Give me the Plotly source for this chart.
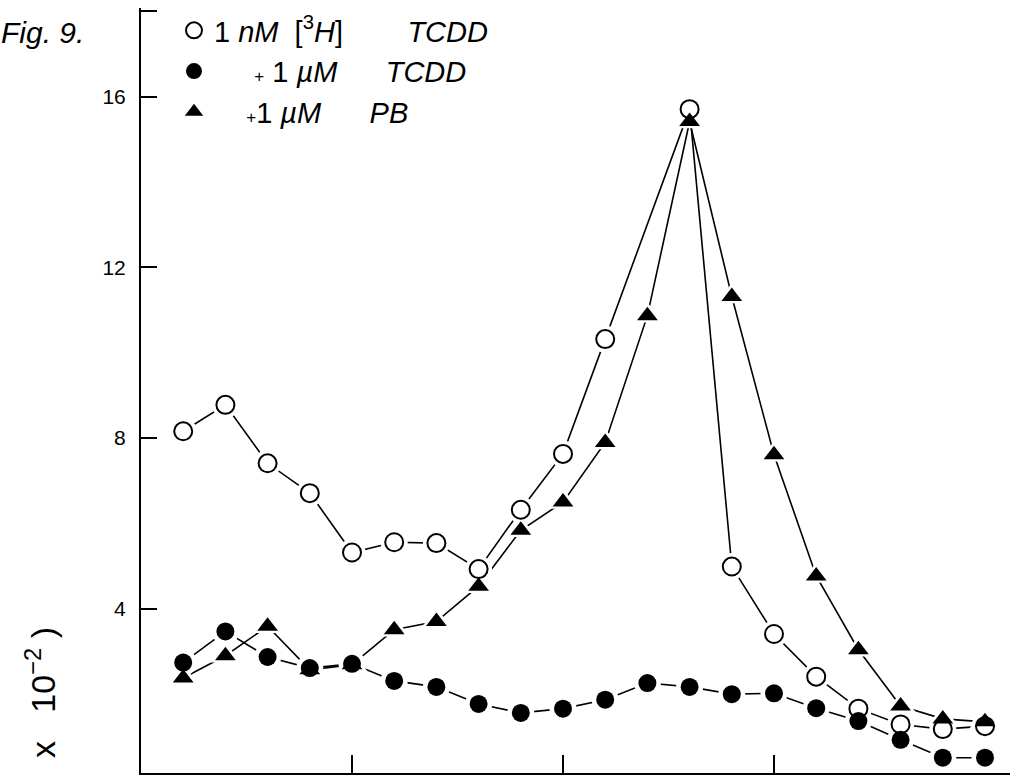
import plotly.graph_objects as go

# Gradient fraction number and bound radioactivity (x 10^-2) for each condition
fractions = list(range(1, 21))
tcdd_1nM = [8.16, 8.78, 7.41, 6.71, 5.32, 5.56, 5.54, 4.93, 6.32, 7.63,
            10.32, None, 15.71, 4.99, 3.41, 2.41, 1.66, 1.29, 1.18, 1.25]
plus_tcdd_1uM = [2.74, 3.47, 2.87, 2.61, 2.71, 2.31, 2.17, 1.77, 1.56, 1.66,
                 1.87, 2.26, 2.17, 2.00, 2.02, 1.67, 1.37, 0.93, 0.51, 0.51]
plus_pb_1uM = [2.38, 2.90, 3.59, 2.57, 2.69, 3.51, 3.70, 4.53, 5.84, 6.50,
               7.90, 10.87, 15.42, 11.32, 7.61, 4.77, 3.04, 1.72, 1.42, 1.35]

y_ticks = [4, 8, 12, 16, 18]
y_ticktext = ["4", "8", "12", "16", ""]
x_ticks = [5, 10, 15]

W, H = 1010, 775
L, R, T, B = 141, 0, 8, 2
PX_PER_FRACTION = 42.2
PX_PER_UNIT = 42.67
plot_w = W - L - R
plot_h = H - T - B
x_range = [0, plot_w / PX_PER_FRACTION]
y_top = 18.08
y_range = [y_top - plot_h / PX_PER_UNIT, y_top]


def px_x(px):
    return (px - L) / plot_w


def px_y(py):
    return 1 - (py - T) / plot_h


FONT = "Liberation Sans, Arial, sans-serif"
SP = "\u00a0"
PLUS = "<span style='font-size:17px'>+</span>"
series = [
    dict(y=tcdd_1nM, symbol="circle-open", size=18,
         name="1" + SP + "<i>nM</i>" + SP * 2 + "[<sup>3</sup><i>H</i>]" + SP * 8 + "<i>TCDD</i>"),
    dict(y=plus_tcdd_1uM, symbol="circle", size=18,
         name=SP * 5 + PLUS + SP + "1" + SP + "<i>\u00b5M</i>" + SP * 6 + "<i>TCDD</i>"),
    dict(y=plus_pb_1uM, symbol="triangle-up", size=18,
         name=SP * 4 + PLUS + "1" + SP + "<i>\u00b5M</i>" + SP * 6 + "<i>PB</i>"),
]

fig = go.Figure()

# connecting lines
for s in series:
    fig.add_trace(go.Scatter(
        x=fractions, y=s["y"], mode="lines", connectgaps=True,
        line=dict(color="black", width=1.6), showlegend=False, hoverinfo="skip"))

# white halos leave a small gap between each line and its markers
for s in series:
    fig.add_trace(go.Scatter(
        x=fractions, y=s["y"], mode="markers",
        marker=dict(symbol=s["symbol"].replace("-open", ""), size=s["size"] + 9,
                    color="white", line=dict(width=0)),
        showlegend=False, hoverinfo="skip"))

# data markers
for i, s in enumerate(series):
    if s["symbol"] == "circle-open":
        marker = dict(symbol="circle", size=s["size"], color="white",
                      line=dict(color="black", width=2))
    else:
        marker = dict(symbol=s["symbol"], size=s["size"], color="black",
                      line=dict(color="black", width=0))
    fig.add_trace(go.Scatter(
        x=fractions, y=s["y"], mode="markers", marker=marker,
        name=s["name"], legendgroup=f"g{i}", showlegend=True))

fig.update_layout(
    width=W, height=H,
    margin=dict(l=L, r=R, t=T, b=B, pad=0),
    paper_bgcolor="white", plot_bgcolor="white",
    font=dict(family=FONT, color="black"),
    showlegend=True,
    legend=dict(
        x=px_x(174), y=px_y(5), xanchor="left", yanchor="top",
        bgcolor="rgba(0,0,0,0)", borderwidth=0,
        font=dict(family=FONT, size=29, color="black"),
        tracegroupgap=3, itemwidth=30, traceorder="normal",
    ),
    xaxis=dict(
        range=x_range, showgrid=False, zeroline=False,
        showline=True, linecolor="black", linewidth=2,
        ticks="inside", tickvals=x_ticks, ticklen=18, tickwidth=2,
        tickcolor="black", showticklabels=False,
    ),
    yaxis=dict(
        range=y_range, showgrid=False, zeroline=False,
        showline=True, linecolor="black", linewidth=2,
        ticks="inside", tickvals=y_ticks, ticktext=y_ticktext,
        ticklen=16, tickwidth=2, tickcolor="black",
        tickfont=dict(family=FONT, size=21, color="black"),
        ticklabelstandoff=9,
    ),
    annotations=[
        dict(text="<i>Fig." + SP + "9.</i>", xref="paper", yref="paper",
             x=px_x(86), y=px_y(32), xanchor="right", yanchor="middle",
             showarrow=False, font=dict(family=FONT, size=30, color="black")),
        dict(text="x" + SP * 3 + "10<sup>\u22122</sup>" + SP + ")", xref="paper", yref="paper",
             x=px_x(40), y=px_y(693), xanchor="center", yanchor="middle",
             textangle=-90, showarrow=False,
             font=dict(family=FONT, size=34, color="black")),
    ],
)

fig.write_html("out.html")
